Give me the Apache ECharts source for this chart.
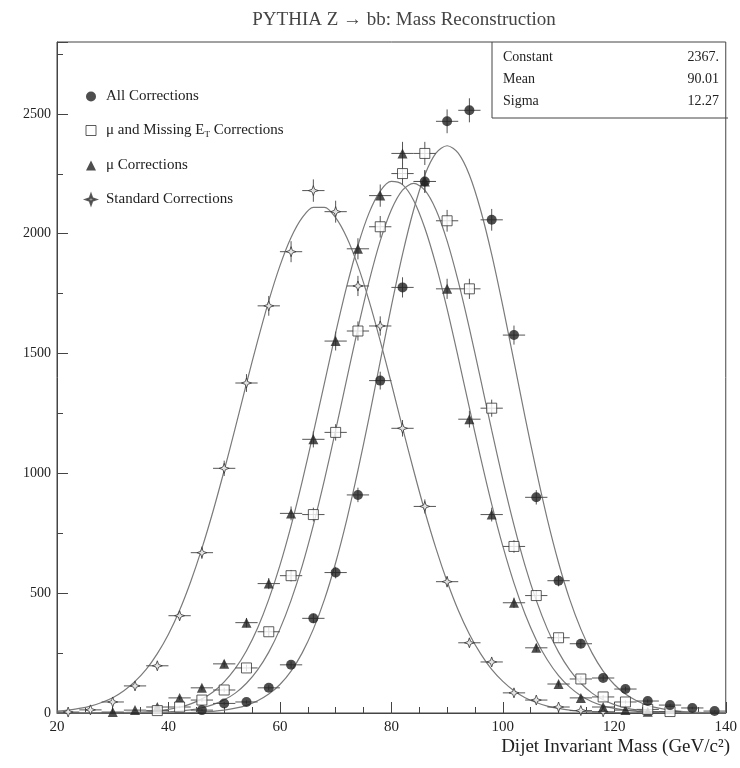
<!DOCTYPE html>
<html>
<head>
<meta charset="utf-8">
<script src="https://cdn.jsdelivr.net/npm/echarts@6/dist/echarts.min.js"></script>
<style>
html, body { margin: 0; padding: 0; background: #fff; }
#main { width: 740px; height: 768px; }
</style>
</head>
<body>
<div id="main"></div>
<script>
// bin centres (GeV/c^2), 4 GeV bins
const binCenters = [22, 26, 30, 34, 38, 42, 46, 50, 54, 58, 62, 66, 70, 74, 78, 82, 86, 90, 94, 98, 102, 106, 110, 114, 118, 122, 126, 130, 134, 138];

// entries per bin
const allCorr = [null, null, null, null, null, null, 12, 40, 46, 105, 201, 395, 586, 910, 1387, 1776, 2218, 2469, 2515, 2058, 1577, 900, 552, 289, 146, 100, 50, 33, 21, 8];
const muEtCorr = [null, null, null, null, 10, 25, 54, 96, 188, 339, 573, 828, 1171, 1594, 2029, 2251, 2335, 2054, 1770, 1272, 695, 490, 314, 142, 67, 46, 15, 6, null, null];
const muCorr = [null, null, 4, 12, 25, 63, 105, 205, 377, 540, 833, 1142, 1552, 1937, 2159, 2335, 2218, 1770, 1226, 828, 460, 272, 121, 63, 25, 12, 5, null, null, null];
const stdCorr = [4, 13, 46, 113, 197, 406, 669, 1021, 1377, 1699, 1925, 2180, 2092, 1782, 1615, 1188, 862, 548, 293, 213, 84, 54, 25, 10, 5, null, null, null, null, null];

// fitted curves, sampled off the plot every 2 GeV from 20 to 140
const fitX = [20, 22, 24, 26, 28, 30, 32, 34, 36, 38, 40, 42, 44, 46, 48, 50, 52, 54, 56, 58, 60, 62, 64, 66, 68, 70, 72, 74, 76, 78, 80,
    82, 84, 86, 88, 90, 92, 94, 96, 98, 100, 102, 104, 106, 108, 110, 112, 114, 116, 118, 120, 122, 124, 126, 128, 130, 132, 134, 136, 138, 140];
const fitAll = [0, 0, 0, 0, 0, 0, 0, 0, 0, 0, 1, 1, 2, 4, 7, 12, 20, 32, 51, 79, 119, 175, 251, 350, 474, 627, 807, 1012, 1234, 1467, 1698,
    1914, 2100, 2245, 2336, 2367, 2336, 2245, 2100, 1914, 1698, 1467, 1234, 1012, 807, 627, 474, 350, 251, 175, 119, 79, 51, 32, 20, 12, 7, 4, 2, 1, 1];
const fitMuEt = [0, 0, 0, 0, 0, 0, 0, 1, 1, 3, 5, 8, 13, 22, 35, 55, 83, 124, 180, 254, 350, 470, 614, 784, 974, 1180, 1394, 1605, 1801, 1970, 2100,
    2182, 2210, 2182, 2100, 1970, 1801, 1605, 1394, 1180, 974, 784, 614, 470, 350, 254, 180, 124, 83, 55, 35, 22, 13, 8, 5, 3, 1, 1, 0, 0, 0];
const fitMu = [0, 0, 0, 0, 1, 1, 2, 3, 5, 9, 15, 24, 38, 59, 88, 130, 186, 260, 355, 474, 616, 781, 967, 1169, 1378, 1586, 1781, 1951, 2087, 2178, 2218,
    2205, 2139, 2024, 1870, 1686, 1483, 1273, 1067, 872, 696, 542, 412, 305, 221, 156, 108, 72, 47, 30, 19, 12, 7, 4, 2, 1, 1, 0, 0, 0, 0];
const fitStd = [8, 12, 19, 29, 44, 64, 93, 132, 182, 248, 329, 429, 549, 687, 842, 1012, 1191, 1375, 1553, 1720, 1866, 1984, 2067, 2110, 2110, 2067, 1984, 1866, 1720, 1553, 1375,
    1191, 1012, 842, 687, 549, 429, 329, 248, 182, 132, 93, 64, 44, 29, 19, 12, 8, 5, 3, 2, 1, 1, 0, 0, 0, 0, 0, 0, 0, 0];

const seriesNames = ['All Corrections', 'μ and Missing ET Corrections', 'μ Corrections', 'Standard Corrections'];
const statNames = ['Constant', 'Mean', 'Sigma'];
const statValues = ['2367.', '90.01', '12.27'];

const FONT = '"Liberation Serif", "Times New Roman", serif';
const INK = '#222';
const STAR = 'path://M0,-10 L2.6,-2.6 L10,0 L2.6,2.6 L0,10 L-2.6,2.6 L-10,0 L-2.6,-2.6 Z';

function pairs(xs, ys) {
    return xs.map((x, i) => ys[i] == null ? null : [x, ys[i]]).filter(p => p);
}

function fitLine(ys) {
    return {
        type: 'line',
        data: pairs(fitX, ys),
        showSymbol: false,
        smooth: 0.3,
        silent: true,
        z: 1,
        lineStyle: { color: '#7a7a7a', width: 1.2 }
    };
}

function errorBars(ys) {
    return {
        type: 'custom',
        silent: true,
        z: 2,
        data: pairs(binCenters, ys),
        encode: { x: 0, y: 1 },
        renderItem: function (params, api) {
            const x = api.value(0), y = api.value(1), e = Math.sqrt(y);
            const l = api.coord([x - 2, y]), r = api.coord([x + 2, y]);
            const t = api.coord([x, y + e]), b = api.coord([x, Math.max(0, y - e)]);
            return {
                type: 'group',
                children: [
                    { type: 'line', shape: { x1: l[0], y1: l[1], x2: r[0], y2: r[1] }, style: { stroke: '#555', lineWidth: 1 } },
                    { type: 'line', shape: { x1: t[0], y1: t[1], x2: b[0], y2: b[1] }, style: { stroke: '#555', lineWidth: 1 } }
                ]
            };
        }
    };
}

function points(name, ys, symbol, size, style) {
    return {
        name: name,
        type: 'scatter',
        data: pairs(binCenters, ys),
        symbol: symbol,
        symbolSize: size,
        z: 3,
        itemStyle: style
    };
}

const chart = echarts.init(document.getElementById('main'), null, { renderer: 'canvas' });

const option = {
    backgroundColor: '#fff',
    animation: false,
    title: {
        text: 'PYTHIA Z → bb: Mass Reconstruction',
        left: 399,
        top: 6,
        textAlign: 'center',
        textStyle: { fontFamily: FONT, fontSize: 19, fontWeight: 'normal', color: '#444' }
    },
    legend: {
        orient: 'vertical',
        left: 80,
        top: 84,
        itemGap: 19,
        itemWidth: 10,
        itemHeight: 10,
        selectedMode: false,
        textStyle: {
            fontFamily: FONT, fontSize: 15, color: INK, padding: [0, 0, 0, 5],
            rich: {
                a: { fontFamily: FONT, fontSize: 15, color: INK },
                s: { fontFamily: FONT, fontSize: 9, color: INK, padding: [8, 0, 0, 0] }
            }
        },
        formatter: function (name) {
            if (name === seriesNames[1]) return '{a|μ and Missing E}{s|T}{a| Corrections}';
            return name;
        },
        data: [
            { name: seriesNames[0], icon: 'circle', itemStyle: { color: INK } },
            { name: seriesNames[1], icon: 'rect', itemStyle: { color: '#fff', borderColor: '#333', borderWidth: 1 } },
            { name: seriesNames[2], icon: 'triangle', itemStyle: { color: INK } },
            { name: seriesNames[3], icon: STAR, itemStyle: { color: '#888' } }
        ]
    },
    grid: {
        left: 57, right: 12, top: 42, bottom: 55,
        show: true, borderColor: '#444', borderWidth: 1
    },
    xAxis: {
        type: 'value',
        min: 20, max: 140, interval: 20,
        axisLine: { lineStyle: { color: '#444' } },
        axisTick: { inside: true, length: 11, lineStyle: { color: '#444' } },
        minorTick: { show: true, splitNumber: 4, length: 6, lineStyle: { color: '#444' } },
        splitLine: { show: false },
        axisLabel: { fontFamily: FONT, fontSize: 15, color: INK, margin: 7 }
    },
    yAxis: {
        type: 'value',
        min: 0, max: 2800, interval: 500,
        axisLine: { show: true, lineStyle: { color: '#444' } },
        axisTick: { show: true, inside: true, length: 11, lineStyle: { color: '#444' } },
        minorTick: { show: true, splitNumber: 2, length: 6, lineStyle: { color: '#444' } },
        splitLine: { show: false },
        axisLabel: {
            fontFamily: FONT, fontSize: 14, color: INK, margin: 6, showMaxLabel: false,
            formatter: v => String(v)
        }
    },
    graphic: [
        { type: 'line', shape: { x1: 492, y1: 42, x2: 492, y2: 118 }, style: { stroke: '#444', lineWidth: 1 } },
        { type: 'line', shape: { x1: 492, y1: 118, x2: 728, y2: 118 }, style: { stroke: '#444', lineWidth: 1 } },
        ...statNames.map((s, i) => ({
            type: 'text', left: 503, top: 50 + i * 22,
            style: { text: s, font: '14px ' + FONT, fill: INK }
        })),
        ...statValues.map((s, i) => ({
            type: 'text', right: 21, top: 50 + i * 22,
            style: { text: s, font: '14px ' + FONT, fill: INK }
        })),
        {
            type: 'text', right: 10, top: 738,
            style: { text: 'Dijet Invariant Mass (GeV/c²)', font: '19px ' + FONT, fill: INK }
        }
    ],
    series: [
        fitLine(fitStd),
        fitLine(fitMu),
        fitLine(fitMuEt),
        fitLine(fitAll),
        errorBars(stdCorr),
        errorBars(muCorr),
        errorBars(muEtCorr),
        errorBars(allCorr),
        points(seriesNames[3], stdCorr, STAR, 10, { color: '#fff', borderColor: '#333', borderWidth: 1 }),
        points(seriesNames[2], muCorr, 'triangle', 10, { color: INK }),
        points(seriesNames[1], muEtCorr, 'rect', 10, { color: '#fff', borderColor: '#333', borderWidth: 1 }),
        points(seriesNames[0], allCorr, 'circle', 10, { color: INK })
    ]
};

chart.setOption(option);
</script>
</body>
</html>
